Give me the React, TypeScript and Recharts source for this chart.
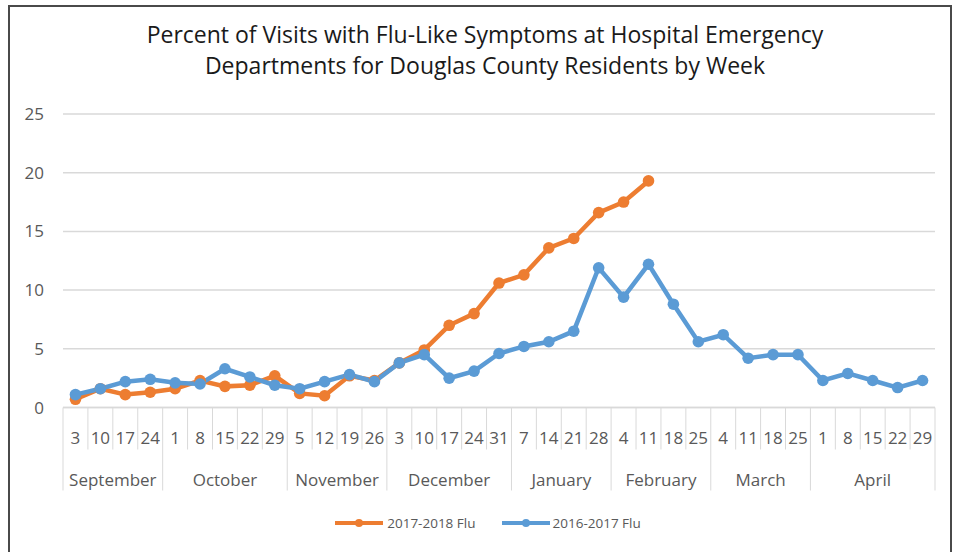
import React from "react";
import { LineChart, Line, XAxis, YAxis, CartesianGrid, Legend } from "recharts";

const weeks = ["3","10","17","24","1","8","15","22","29","5","12","19","26","3","10","17","24","31","7","14","21","28","4","11","18","25","4","11","18","25","1","8","15","22","29"];
const months = ["September","October","November","December","January","February","March","April"];
const weeksPerMonth = [4, 5, 4, 5, 4, 4, 4, 5];

const flu2017_2018: (number | null)[] = [0.7,1.6,1.1,1.3,1.6,2.3,1.8,1.9,2.7,1.2,1.0,2.7,2.3,3.8,4.9,7.0,8.0,10.6,11.3,13.6,14.4,16.6,17.5,19.3,null,null,null,null,null,null,null,null,null,null,null];
const flu2016_2017: number[] = [1.1,1.6,2.2,2.4,2.1,2.0,3.3,2.6,1.9,1.6,2.2,2.8,2.2,3.8,4.5,2.5,3.1,4.6,5.2,5.6,6.5,11.9,9.4,12.2,8.8,5.6,6.2,4.2,4.5,4.5,2.3,2.9,2.3,1.7,2.3];
const yTicks = [0, 5, 10, 15, 20, 25];

const data = weeks.map((w, i) => ({
  id: String(i),
  a: flu2017_2018[i],
  b: flu2016_2017[i],
}));

const monthStart: Record<number, number> = {};
{
  let s = 0;
  weeksPerMonth.forEach((n, m) => {
    monthStart[s] = m;
    s += n;
  });
}

const W = 957;
const H = 552;
const M_LEFT = 0;
const Y_W = 63;
const M_RIGHT = 22;
const PLOT_W = W - M_LEFT - Y_W - M_RIGHT;
const BAND = PLOT_W / weeks.length;
const HALF = BAND / 2;

const FONT = "'Open Sans', sans-serif";
const TXT = "#595959";
const GRID = "#d9d9d9";
const ORANGE = "#ED7D31";
const BLUE = "#5B9BD5";

function WeekTick(props: any) {
  const { x, y, payload } = props;
  const i = Number(payload.value);
  const isStart = monthStart[i] !== undefined;
  const last = i === weeks.length - 1;
  return (
    <g>
      <line x1={x - HALF} x2={x - HALF} y1={y} y2={y + (isStart ? 83 : 42)} stroke={GRID} strokeWidth={1} />
      <text x={x} y={y + 36.5} textAnchor="middle" fill={TXT} fontSize={17} fontFamily={FONT}>
        {weeks[i]}
      </text>
      {isStart && (
        <text
          x={x + ((weeksPerMonth[monthStart[i]] - 1) / 2) * BAND}
          y={y + 78.5}
          textAnchor="middle"
          fill={TXT}
          fontSize={17}
          fontFamily={FONT}
        >
          {months[monthStart[i]]}
        </text>
      )}
      {last && <line x1={x + HALF} x2={x + HALF} y1={y} y2={y + 83} stroke={GRID} strokeWidth={1} />}
    </g>
  );
}

function LegendSample({ color }: { color: string }) {
  return (
    <svg width={48} height={20} style={{ display: "block" }}>
      <line x1={0} x2={48} y1={10} y2={10} stroke={color} strokeWidth={4} />
      <circle cx={24} cy={10} r={4} fill={color} />
    </svg>
  );
}

function LegendContent() {
  return (
    <div
      style={{
        height: 20,
        display: "flex",
        justifyContent: "center",
        alignItems: "center",
        paddingLeft: 41,
        fontFamily: FONT,
        fontSize: 13.5,
        color: TXT,
        boxSizing: "border-box",
        whiteSpace: "nowrap",
      }}
    >
      <LegendSample color={ORANGE} />
      <span style={{ marginLeft: 4, marginRight: 26 }}>2017-2018 Flu</span>
      <LegendSample color={BLUE} />
      <span style={{ marginLeft: 3 }}>2016-2017 Flu</span>
    </div>
  );
}

export default function App() {
  return (
    <div
      style={{
        position: "fixed",
        left: 0,
        top: 0,
        width: W,
        height: H,
        overflow: "hidden",
        background: "#fff",
      }}
    >
      <div
        style={{
          position: "absolute",
          left: 8,
          top: 5,
          width: 944,
          height: 600,
          border: "2px solid #4a4a4a",
          boxSizing: "border-box",
        }}
      />
      <div
        style={{
          position: "absolute",
          left: 0,
          top: 19,
          width: W,
          paddingLeft: 13,
          boxSizing: "border-box",
          textAlign: "center",
          fontFamily: FONT,
          fontSize: 23,
          lineHeight: "31px",
          color: "#1a1a1a",
          whiteSpace: "nowrap",
        }}
      >
        Percent of Visits with Flu-Like Symptoms at Hospital Emergency
        <br />
        Departments for Douglas County Residents by Week
      </div>
      <div style={{ position: "absolute", left: 0, top: 0 }}>
        <LineChart
          width={W}
          height={H}
          data={data}
          margin={{ top: 114, right: M_RIGHT, left: M_LEFT, bottom: 19 }}
        >
          <CartesianGrid vertical={false} stroke={GRID} strokeWidth={1.5} />
          <XAxis
            dataKey="id"
            type="category"
            interval={0}
            height={105.5}
            padding={{ left: HALF, right: HALF }}
            tickSize={0}
            tickMargin={0}
            tickLine={false}
            axisLine={{ stroke: GRID, strokeWidth: 1.5 }}
            tick={<WeekTick />}
          />
          <YAxis
            width={Y_W}
            domain={[0, 25]}
            ticks={yTicks}
            interval={0}
            tickSize={0}
            tickMargin={19}
            axisLine={false}
            tickLine={false}
            tick={{ fill: TXT, fontSize: 17, fontFamily: FONT }}
          />
          <Legend verticalAlign="bottom" height={20} content={<LegendContent />} />
          <Line
            dataKey="a"
            name="2017-2018 Flu"
            stroke={ORANGE}
            strokeWidth={4.5}
            dot={{ r: 5.8, fill: ORANGE, stroke: ORANGE, strokeWidth: 0 }}
            activeDot={false}
            isAnimationActive={false}
            connectNulls={false}
          />
          <Line
            dataKey="b"
            name="2016-2017 Flu"
            stroke={BLUE}
            strokeWidth={4.5}
            dot={{ r: 5.8, fill: BLUE, stroke: BLUE, strokeWidth: 0 }}
            activeDot={false}
            isAnimationActive={false}
          />
        </LineChart>
      </div>
    </div>
  );
}
